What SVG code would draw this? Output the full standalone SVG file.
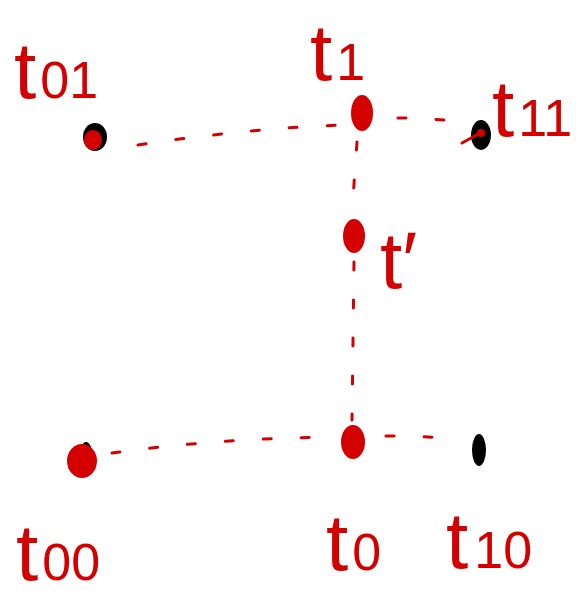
<svg xmlns="http://www.w3.org/2000/svg" width="586" height="596" viewBox="0 0 586 596">
<style>
.lbl{font-family:"Liberation Sans",Arial,sans-serif;fill:#d40000;font-size:80px}
.sub{font-size:52px}
.red{fill:#d40000}
.blk{fill:#000}
.dash{fill:none;stroke:#d40000;stroke-width:3;stroke-linecap:round;stroke-dasharray:8 30}
</style>
<rect width="586" height="596" fill="#fff"/>
<g id="connectors">
<path class="dash" d="M138 145 Q250 128 345 125"/>
<path class="dash" d="M398 118 Q430 118 462 122"/>
<path class="dash" d="M357 142 L352 212"/>
<path class="dash" d="M354 262 L352 420"/>
<path class="dash" d="M112 453 Q220 438 338 437"/>
<path class="dash" d="M386 436 Q420 436 445 438"/>
</g>
<g id="t01">
<ellipse class="blk" cx="95" cy="137" rx="12" ry="14"/>
<ellipse class="red" cx="93" cy="140" rx="9" ry="10"/>
<text class="lbl" x="14" y="98">t<tspan class="sub" dx="4">01</tspan></text>
</g>
<g id="t1">
<ellipse class="red" cx="362" cy="113" rx="11" ry="18"/>
<text class="lbl" x="310" y="80">t<tspan class="sub" dx="4">1</tspan></text>
</g>
<g id="t11">
<ellipse class="blk" cx="481" cy="135" rx="10" ry="15"/>
<ellipse class="red" cx="481" cy="133" rx="4" ry="4"/>
<path d="M462 143 L482 132" stroke="#d40000" stroke-width="3" stroke-linecap="round"/>
<text class="lbl" x="492" y="136">t<tspan class="sub" dx="4">11</tspan></text>
</g>
<g id="tprime">
<ellipse class="red" cx="354" cy="236" rx="11" ry="17"/>
<text class="lbl" x="380" y="288" font-size="96">t′</text>
</g>
<g id="t00">
<ellipse class="blk" cx="86" cy="458" rx="7" ry="16"/>
<ellipse class="red" cx="82" cy="461" rx="15" ry="17"/>
<text class="lbl" x="16" y="580">t<tspan class="sub" dx="4">00</tspan></text>
</g>
<g id="t0">
<ellipse class="red" cx="353" cy="442" rx="12" ry="17"/>
<text class="lbl" x="326" y="570">t<tspan class="sub" dx="4">0</tspan></text>
</g>
<g id="t10">
<ellipse class="blk" cx="479" cy="450" rx="7" ry="16"/>
<text class="lbl" x="446" y="568">t<tspan class="sub" dx="6">10</tspan></text>
</g>
</svg>
